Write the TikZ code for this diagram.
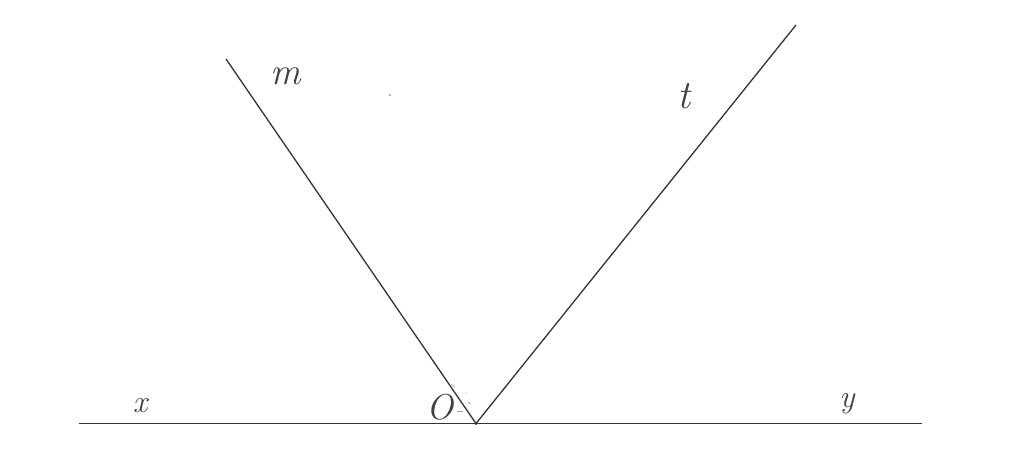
\documentclass[tikz,border=0pt]{standalone}
\begin{document}
\begin{tikzpicture}[x=1pt,y=-1pt,
  ln/.style={draw=black!80,line width=1.3pt},
  lbl/.style={text=black!75,font=\fontsize{32}{32}\selectfont\itshape,inner sep=0pt},
  mk/.style={draw=black!35,line width=0.7pt}]
\useasboundingbox (0,0) rectangle (1024,459);
\coordinate (L) at (79,423.5);
\coordinate (R) at (922,423.5);
\coordinate (O) at (476,423.5);
\coordinate (M) at (226,59);
\coordinate (T) at (796,25);
\draw[ln] (L) -- (R);
\draw[ln] (O) -- (M);
\draw[ln] (O) -- (T);
\fill[black!80] (O) circle (1.6);
\node[lbl] (lx) at (140,406) {x};
\node[lbl] (ly) at (847,404) {y};
\node[lbl,font=\fontsize{36}{36}\selectfont\itshape] (lo) at (440,407) {O};
\node[lbl,font=\fontsize{38}{38}\selectfont\itshape] (lm) at (286,76) {m};
\node[lbl,font=\fontsize{40}{40}\selectfont\itshape] (lt) at (684,96) {t};
\fill[black!60] (390,95) circle (0.8);
\draw[mk] (451,384) -- (455,387);
\fill[black!35] (466,393) circle (0.7);
\draw[mk] (468,402) -- (471,404);
\draw[mk] (457,411) -- (463,411);
\end{tikzpicture}
\end{document}
